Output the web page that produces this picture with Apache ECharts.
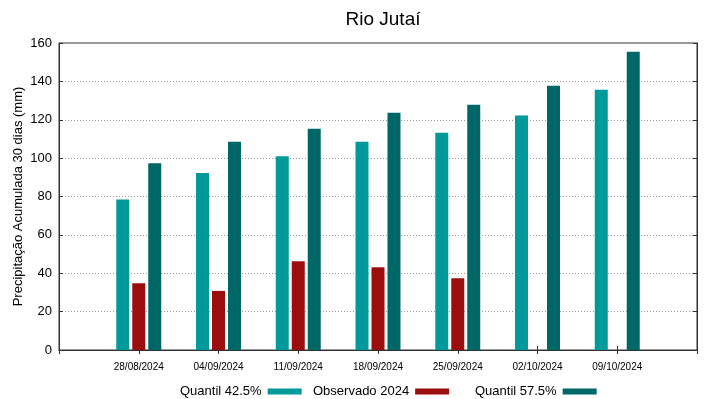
<!DOCTYPE html>
<html><head><meta charset="utf-8">
<script src="https://cdn.jsdelivr.net/npm/echarts@6/dist/echarts.min.js"></script>
<style>html,body{margin:0;padding:0;background:#fff}#c{width:719px;height:399px}</style>
</head><body><div id="c"></div>
<script>
const categories = ['', '28/08/2024', '04/09/2024', '11/09/2024', '18/09/2024', '25/09/2024', '02/10/2024', '09/10/2024', ''];
const quantil425 = [null, 78.4, 92.3, 101, 108.5, 113.2, 122.2, 135.6, null];
const observado2024 = [null, 34.8, 30.8, 46.3, 43.1, 37.4, null, null, null];
const quantil575 = [null, 97.3, 108.5, 115.3, 123.6, 127.8, 137.7, 155.5, null];
const yTicks = [0, 20, 40, 60, 80, 100, 120, 140, 160];
const seriesNames = ['Quantil 42.5%', 'Observado 2024', 'Quantil 57.5%'];

const chart = echarts.init(document.getElementById('c'));
const font = 'Liberation Sans, Arial, sans-serif';
const legendLefts = [175, 308, 470];
chart.setOption({
  animation: false,
  backgroundColor: '#fff',
  textStyle: { fontFamily: font },
  title: { text: 'Rio Jutaí', left: 378, textAlign: 'center', top: 5, textStyle: { fontFamily: font, fontSize: 19, fontWeight: 'normal', color: '#000' } },
  grid: { left: 59, right: 22, top: 43, bottom: 49, show: true, borderColor: '#333', borderWidth: 1 },
  legend: seriesNames.map((n, i) => ({
    top: 380, left: legendLefts[i], align: 'right', itemWidth: 34, itemHeight: 6,
    icon: 'rect',
    textStyle: { fontFamily: font, fontSize: 13, color: '#000', padding: [0, 1, 0, 0] },
    data: [n]
  })),
  xAxis: [{
    type: 'category', data: categories, boundaryGap: false,
    axisLine: { lineStyle: { color: '#333' } },
    axisTick: { inside: true, length: 4, lineStyle: { color: '#333' } },
    axisLabel: { fontSize: 10, color: '#000', margin: 12, interval: 0 },
    splitLine: { show: false }
  }, {
    type: 'category', data: categories, boundaryGap: false, position: 'top',
    axisLine: { lineStyle: { color: '#333' } },
    axisTick: { inside: true, length: 4, lineStyle: { color: '#333' } },
    axisLabel: { show: false }
  }],
  yAxis: [{
    type: 'value', min: yTicks[0], max: yTicks[yTicks.length - 1], interval: 20,
    name: 'Precipitação Acumulada 30 dias (mm)', nameLocation: 'middle', nameGap: 34,
    nameMoveOverlap: false,
    nameTextStyle: { fontSize: 13, color: '#000', fontFamily: font },
    axisLine: { show: true, lineStyle: { color: '#333' } },
    axisTick: { show: true, inside: true, length: 4, lineStyle: { color: '#333' } },
    axisLabel: { fontSize: 13, color: '#000', margin: 7 },
    splitLine: { show: true, lineStyle: { color: '#999', type: [1, 2], width: 1 } }
  }, {
    type: 'value', min: yTicks[0], max: yTicks[yTicks.length - 1], interval: 20, position: 'right',
    axisLine: { show: true, lineStyle: { color: '#333' } },
    axisTick: { show: true, inside: true, length: 4, lineStyle: { color: '#333' } },
    axisLabel: { show: false }, splitLine: { show: false }
  }],
  series: [
    { name: seriesNames[0], type: 'bar', data: quantil425, barWidth: 13, barGap: '23%', itemStyle: { color: '#009a9a' } },
    { name: seriesNames[1], type: 'bar', data: observado2024, barWidth: 13, barGap: '23%', itemStyle: { color: '#9c0e0e' } },
    { name: seriesNames[2], type: 'bar', data: quantil575, barWidth: 13, barGap: '23%', itemStyle: { color: '#006767' } }
  ]
});
</script></body></html>
